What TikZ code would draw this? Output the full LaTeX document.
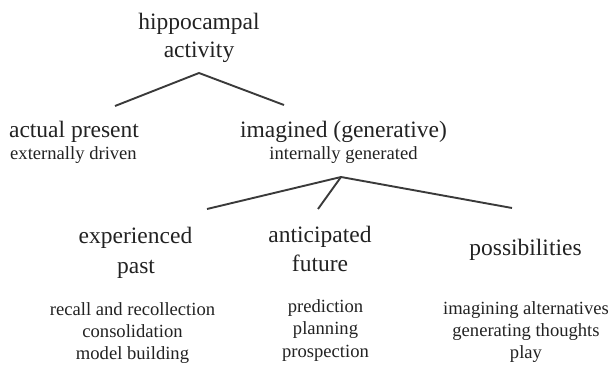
\documentclass[tikz,border=0pt]{standalone}
\usepackage{fontspec}
\setmainfont{Liberation Serif}
\definecolor{txt}{HTML}{222222}
\definecolor{ln}{HTML}{3A3A3A}
\tikzset{
  big/.style={font=\fontsize{23.5}{28}\selectfont, text=txt, inner sep=0pt, anchor=base},
  small/.style={font=\fontsize{18.6}{22}\selectfont, text=txt, inner sep=0pt, anchor=base},
  branch/.style={draw=ln, line width=1.9pt}
}
\begin{document}
\begin{tikzpicture}[x=1pt,y=-1pt]
\useasboundingbox (0,0) rectangle (609,369);
% top
\node[big] (hip1) at (199,29.5) {hippocampal};
\node[big] (hip2) at (199,57) {activity};
% level 2
\node[big] (act1) at (74,137) {actual present};
\node[small] (act2) at (73.5,159.5) {externally driven};
\node[big] (ima1) at (343.5,137) {imagined (generative)};
\node[small] (ima2) at (343.5,159.5) {internally generated};
% level 3
\node[big] (exp1) at (135.5,243) {experienced};
\node[big] (exp2) at (136,273) {past};
\node[big] (ant1) at (320,242.5) {anticipated};
\node[big] (ant2) at (320,271.5) {future};
\node[big] (pos) at (525.5,255) {possibilities};
% lists
\node[small] (r1) at (132.5,315) {recall and recollection};
\node[small] (r2) at (132.5,337) {consolidation};
\node[small] (r3) at (132.5,359) {model building};
\node[small] (p1) at (325.5,312) {prediction};
\node[small] (p2) at (325.5,334.5) {planning};
\node[small] (p3) at (325.5,357) {prospection};
\node[small] (g1) at (526,314) {imagining alternatives};
\node[small] (g2) at (526,336) {generating thoughts};
\node[small] (g3) at (526,358) {play};
% connector points
\coordinate (t1) at (199,73);
\coordinate (l1) at (115,106);
\coordinate (r1e) at (284,105);
\coordinate (t2) at (341,177);
\coordinate (l2) at (207,209);
\coordinate (m2) at (318,209);
\coordinate (r2e) at (512,208);
\draw[branch] (l1) -- (t1) -- (r1e);
\draw[branch] (l2) -- (t2) -- (r2e);
\draw[branch] (t2) -- (m2);
\end{tikzpicture}
\end{document}
